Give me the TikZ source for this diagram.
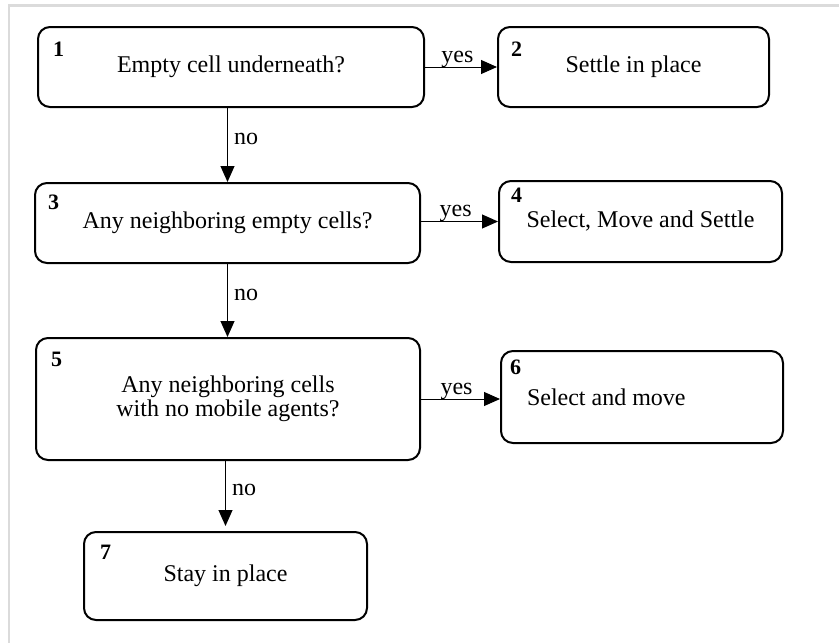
\documentclass[tikz,border=0pt]{standalone}
\usepackage{fontspec}
\setmainfont{Liberation Serif}
\usetikzlibrary{arrows.meta}

\begin{document}
\begin{tikzpicture}[x={(1pt,0)}, y={(0,-1pt)},
    stepbox/.style={draw, line width=2pt, rounded corners=12pt, inner sep=0pt, align=center, font=\fontsize{24}{24}\selectfont},
    num/.style={anchor=base west, inner sep=0pt, font=\fontsize{22}{22}\selectfont\bfseries},
    flow/.style={draw, line width=1pt, arrows={-Triangle[length=16pt, width=14pt]}},
    answer/.style={inner sep=0pt, font=\fontsize{24}{24}\selectfont}]
  \useasboundingbox (0,0) rectangle (839,643);
  % grey frame of the page
  \path[draw=black!14, line width=2.5pt] (9,643) -- (9,5.5) -- (839,5.5);

  \node[stepbox, minimum width=386pt, minimum height=80pt] (b1) at (231,67) {Empty cell underneath?};
  \node[stepbox, minimum width=271pt, minimum height=80pt] (b2) at (633.5,67) {Settle in place};
  \node[stepbox, minimum width=385pt, minimum height=80pt] (b3) at (227.5,223) {Any neighboring empty cells?};
  \node[stepbox, minimum width=283pt, minimum height=81pt] (b4) at (640.5,221.5) {Select, Move and Settle};
  \node[stepbox, minimum width=384pt, minimum height=122pt] (b5) at (228,399) {Any neighboring cells\\with no mobile agents?};
  \node[stepbox, minimum width=282pt, minimum height=92pt, text width=230pt, inner xsep=26pt, align=flush left] (b6) at (642,397) {Select and move};
  \node[stepbox, minimum width=283pt, minimum height=88pt] (b7) at (225.5,576) {Stay in place};

  \node[num] (n1) at ([shift={(16,30)}]b1.north west) {1};
  \node[num] (n2) at ([shift={(14,30)}]b2.north west) {2};
  \node[num] (n3) at ([shift={(14,27)}]b3.north west) {3};
  \node[num] (n4) at ([shift={(13,22)}]b4.north west) {4};
  \node[num] (n5) at ([shift={(16,29)}]b5.north west) {5};
  \node[num] (n6) at ([shift={(10,24)}]b6.north west) {6};
  \node[num] (n7) at ([shift={(17,28)}]b7.north west) {7};

  \path[flow] (b1.east) -- node[answer, anchor=base, pos=.45, yshift=5pt] (y1) {yes} (b2.west);
  \path[flow] (b3.east |- b4.west) -- node[answer, anchor=base, pos=.45, yshift=5pt] (y2) {yes} (b4.west);
  \path[flow] (b5.east) -- node[answer, anchor=base, pos=.45, yshift=5pt] (y3) {yes} (b5.east -| b6.west);
  \path[flow] (b1.south -| b3.north) -- node[answer, anchor=west, pos=.42, xshift=6pt] (o1) {no} (b3.north);
  \path[flow] (b3.south) -- node[answer, anchor=west, pos=.42, xshift=6pt] (o2) {no} (b3.south |- b5.north);
  \path[flow, shorten >=5pt] (b5.south -| b7.north) -- node[answer, anchor=west, pos=.42, xshift=6pt] (o3) {no} (b7.north);
\end{tikzpicture}
\end{document}
